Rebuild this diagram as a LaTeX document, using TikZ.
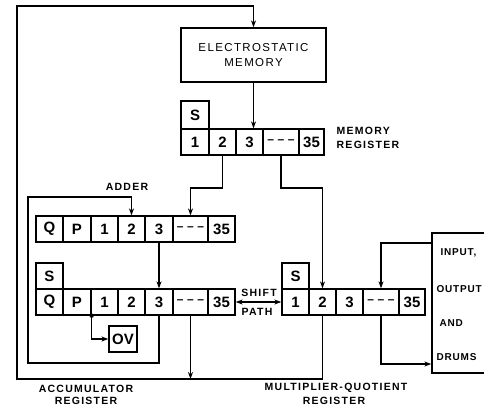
\documentclass[tikz,border=0pt]{standalone}
\usepackage{fontspec}
\setmainfont{Liberation Sans}
\newfontfamily\labfont[LetterSpace=12]{Liberation Sans}
\newfontfamily\iofont[LetterSpace=8]{Liberation Sans}
\newfontfamily\cellfont{Liberation Sans}
\usetikzlibrary{arrows.meta}
\newcommand{\dashes}{{\fontsize{12}{12}\selectfont\textendash\hspace{3.5pt}\textendash\hspace{3.5pt}\textendash}}
\begin{document}
\begin{tikzpicture}[x=1pt,y=-1pt,line width=1.3pt,
  cell/.style={draw,minimum height=26pt,inner sep=0pt,font=\cellfont\bfseries\fontsize{15}{15}\selectfont},
  lab/.style={inner sep=0pt,font=\labfont\bfseries\fontsize{10.5}{11}\selectfont},
  iolab/.style={inner sep=0pt,anchor=west,font=\iofont\bfseries\fontsize{10}{11}\selectfont},
  arr/.style={-{Stealth[length=7pt,width=5pt]}},
  darr/.style={{Stealth[length=7pt,width=5pt]}-{Stealth[length=7pt,width=5pt]}},
  box/.style={draw,inner sep=0pt}]
\useasboundingbox (0,0) rectangle (484,407);
\clip (0,0) rectangle (484,407);
% electrostatic memory
\node[box,minimum width=145pt,minimum height=54pt] (em) at (253.5,55) {};
\node[inner sep=0pt,font=\labfont\fontsize{11.5}{14}\selectfont] (emt1) at (253.5,48) {ELECTROSTATIC};
\node[inner sep=0pt,font=\labfont\fontsize{11.5}{14}\selectfont] (emt2) at (253.5,63) {MEMORY};
% memory register
\node[cell,minimum width=28pt,minimum height=28pt] (mS) at (195,115) {S};
\node[cell,minimum width=28pt] (m1) at (195,142) {1};
\node[cell,minimum width=27pt] (m2) at (222.5,142) {2};
\node[cell,minimum width=27pt] (m3) at (249.5,142) {3};
\node[cell,minimum width=36pt] (md) at (281,142) {\dashes};
\node[cell,minimum width=25pt] (m35) at (311.5,142) {35};
\node[lab,anchor=west] (mrl1) at (336,131) {MEMORY};
\node[lab,anchor=west] (mrl2) at (336,145) {REGISTER};
% accumulator upper row
\node[cell,minimum width=27pt] (aQ) at (49.5,229) {Q};
\node[cell,minimum width=28pt] (aP) at (77,229) {P};
\node[cell,minimum width=27pt] (a1) at (104.5,229) {1};
\node[cell,minimum width=27pt] (a2) at (131.5,229) {2};
\node[cell,minimum width=28pt] (a3) at (159,229) {3};
\node[cell,minimum width=35pt] (ad) at (190.5,229) {\dashes};
\node[cell,minimum width=27pt] (a35) at (221.5,229) {35};
\node[lab] (adder) at (127,187) {ADDER};
% accumulator lower row
\node[cell,minimum width=27pt] (bS) at (49.5,276) {S};
\node[cell,minimum width=27pt] (bQ) at (49.5,302) {Q};
\node[cell,minimum width=28pt] (bP) at (77,302) {P};
\node[cell,minimum width=27pt] (b1) at (104.5,302) {1};
\node[cell,minimum width=27pt] (b2) at (131.5,302) {2};
\node[cell,minimum width=28pt] (b3) at (159,302) {3};
\node[cell,minimum width=35pt] (bd) at (190.5,302) {\dashes};
\node[cell,minimum width=27pt] (b35) at (221.5,302) {35};
\node[cell,minimum width=28pt] (ov) at (123,339) {OV};
\node[lab] (acl1) at (86,389) {ACCUMULATOR};
\node[lab] (acl2) at (86,401) {REGISTER};
% MQ register
\node[cell,minimum width=27pt] (qS) at (295.5,276) {S};
\node[cell,minimum width=27pt] (q1) at (295.5,302) {1};
\node[cell,minimum width=27pt] (q2) at (322.5,302) {2};
\node[cell,minimum width=27pt] (q3) at (349.5,302) {3};
\node[cell,minimum width=36pt] (qd) at (381,302) {\dashes};
\node[cell,minimum width=26pt] (q35) at (412,302) {35};
\node[lab] (mql1) at (336,388) {MULTIPLIER-QUOTIENT};
\node[lab] (mql2) at (334,401) {REGISTER};
\node[lab] (sh1) at (259,293) {SHIFT};
\node[lab] (sh2) at (257,312) {PATH};
% input/output box
\node[box,minimum width=68pt,minimum height=140pt] (io) at (466,303) {};
\node[iolab] (io1) at (440,253) {INPUT,};
\node[iolab] (io2) at (436,289) {OUTPUT};
\node[iolab] (io3) at (439,323) {AND};
\node[iolab] (io4) at (436,357) {DRUMS};
% bend coordinates
\coordinate (busL) at (17,379);
\coordinate (topL) at (17,6);
\coordinate (mrow) at (0,188);
\coordinate (addtop) at (28,197);
\coordinate (addbot) at (28,363);
\coordinate (iotop) at (0,243);
\coordinate (iobot) at (0,364);
% connectors
\draw[arr] (q2.south) -- (q2.south |- busL) -- (busL) -- (topL) -- (topL -| em.north) -- (em.north);
\draw[arr] (bd.south) -- (bd.south |- busL);
\draw[arr] (em.south) -- (em.south |- m3.north);
\draw[arr] (m2.south) -- (m2.south |- mrow) -- (mrow -| ad.north) -- (ad.north);
\draw[arr] (md.south) -- (md.south |- mrow) -- (mrow -| q2.north) -- (q2.north);
\draw[arr] (b3.south) -- (b3.south |- addbot) -- (addbot) -- (addtop) -- (addtop -| a2.north) -- (a2.north);
\draw[arr] (a3.south) -- (b3.north);
\coordinate (ovj) at (bP.south east);
\fill (ovj) circle (2.2pt);
\draw[arr] (ovj) -- (ovj |- ov.west) -- (ov.west);
\draw[darr] (b35.east) -- (q1.west);
\draw[arr] (io.west |- iotop) -- (iotop -| qd.north) -- (qd.north);
\draw[arr] (qd.south) -- (qd.south |- iobot) -- (iobot -| io.west);
\end{tikzpicture}
\end{document}
